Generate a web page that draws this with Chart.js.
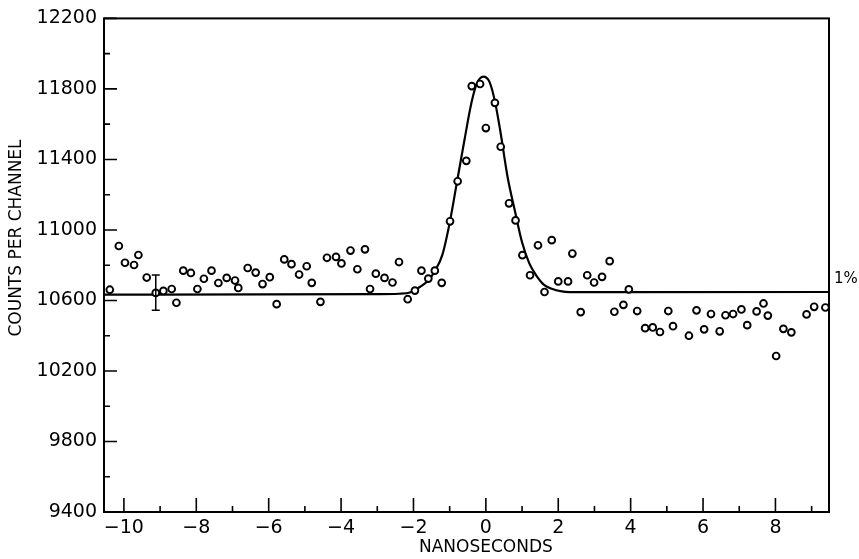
<!DOCTYPE html>
<html>
<head>
<meta charset="utf-8">
<script src="https://cdn.jsdelivr.net/npm/chart.js@4.4.1/dist/chart.umd.min.js"></script>
<style>
    html, body { margin: 0; padding: 0; background: #fff; }
    canvas { display: block; }
</style>
</head>
<body>
<canvas id="chart" width="859" height="559"></canvas>
<script>
// measured points (ns, counts per channel)
const timeNs = [
    -10.39, -10.14, -9.97, -9.72, -9.60, -9.37, -9.12, -8.91, -8.68, -8.55,
    -8.36, -8.15, -7.97, -7.79, -7.58, -7.39, -7.16, -6.93, -6.84, -6.58,
    -6.36, -6.17, -5.97, -5.78, -5.57, -5.37, -5.16, -4.95, -4.81, -4.57,
    -4.39, -4.14, -3.99, -3.74, -3.55, -3.34, -3.20, -3.04, -2.80, -2.58,
    -2.40, -2.16, -1.96, -1.78, -1.59, -1.41, -1.22, -0.99, -0.78, -0.54,
    -0.39, -0.16, 0.00, 0.25, 0.41, 0.64, 0.82, 1.01, 1.22, 1.44,
    1.62, 1.82, 2.00, 2.27, 2.39, 2.62, 2.80, 2.99, 3.21, 3.42,
    3.55, 3.80, 3.95, 4.18, 4.40, 4.61, 4.81, 5.04, 5.17, 5.61,
    5.82, 6.03, 6.22, 6.46, 6.62, 6.83, 7.06, 7.22, 7.48, 7.67,
    7.79, 8.02, 8.22, 8.44, 8.86, 9.07, 9.38
];
const counts = [
    10661, 10909, 10814, 10801, 10858, 10730, 10643, 10654, 10665, 10587,
    10769, 10756, 10665, 10723, 10769, 10699, 10728, 10713, 10671, 10784,
    10758, 10693, 10732, 10579, 10833, 10806, 10747, 10794, 10700, 10592,
    10842, 10847, 10810, 10883, 10777, 10890, 10665, 10752, 10728, 10702,
    10818, 10607, 10656, 10769, 10724, 10769, 10700, 11049, 11276, 11392,
    11816, 11828, 11578, 11721, 11472, 11151, 11054, 10857, 10743, 10913,
    10648, 10942, 10708, 10708, 10866, 10534, 10743, 10702, 10734, 10823,
    10536, 10575, 10663, 10540, 10443, 10447, 10421, 10540, 10454, 10400,
    10544, 10436, 10523, 10425, 10516, 10523, 10549, 10460, 10538, 10583,
    10514, 10285, 10439, 10419, 10521, 10564, 10560
];

// fitted curve
const fitNs = [-10.55, -3.0, -2.4, -2.1, -1.8, -1.6, -1.4, -1.2, -1.0, -0.8, -0.6, -0.4, -0.25, -0.07,
    0.1, 0.25, 0.4, 0.6, 0.8, 1.0, 1.2, 1.4, 1.6, 1.8, 2.1, 2.6, 9.48];
const fitCounts = [10633, 10636, 10638, 10645, 10680, 10712, 10770, 10860, 11040, 11270, 11500, 11720, 11830, 11870,
    11840, 11730, 11560, 11300, 11110, 10930, 10810, 10740, 10690, 10668, 10652, 10647, 10648];

// the "I" error bar near -9 ns
const errorBarNs = [-9.12];
const errorBarLow = [10545];
const errorBarHigh = [10745];

const xRange = [-10.55, 9.48];
const yRange = [9400, 12200];
const xTicks = [-10, -8, -6, -4, -2, 0, 2, 4, 6, 8];
const xMinorTicks = [-9, -7, -5, -3, -1, 1, 3, 5, 7, 9];
const yTicks = [9400, 9800, 10200, 10600, 11000, 11400, 11800, 12200];
const yMinorTicks = [9600, 10000, 10400, 10800, 11200, 11600, 12000];

const xTitle = 'NANOSECONDS';
const yTitle = 'COUNTS PER CHANNEL';
const percentNote = '1%';

const FONT = '"DejaVu Sans", sans-serif';

const paperPlugin = {
    id: 'paperPlugin',
    afterDatasetsDraw(chart) {
        const ctx = chart.ctx;
        const area = chart.chartArea;
        const xs = chart.scales.x;
        const ys = chart.scales.y;
        ctx.save();
        ctx.strokeStyle = '#000';
        ctx.lineWidth = 2;
        ctx.strokeRect(area.left, area.top, area.right - area.left, area.bottom - area.top);

        // inward ticks
        ctx.lineWidth = 1.6;
        ctx.beginPath();
        xTicks.forEach(v => {
            const px = xs.getPixelForValue(v);
            ctx.moveTo(px, area.bottom);
            ctx.lineTo(px, area.bottom - 14);
        });
        xMinorTicks.forEach(v => {
            const px = xs.getPixelForValue(v);
            ctx.moveTo(px, area.bottom);
            ctx.lineTo(px, area.bottom - 6);
        });
        yTicks.forEach(v => {
            const py = ys.getPixelForValue(v);
            ctx.moveTo(area.left, py);
            ctx.lineTo(area.left + 13, py);
        });
        yMinorTicks.forEach(v => {
            const py = ys.getPixelForValue(v);
            ctx.moveTo(area.left, py);
            ctx.lineTo(area.left + 6, py);
        });
        ctx.stroke();

        // error bar
        ctx.lineWidth = 1.5;
        ctx.beginPath();
        errorBarNs.forEach((v, i) => {
            const px = xs.getPixelForValue(v);
            const lo = ys.getPixelForValue(errorBarLow[i]);
            const hi = ys.getPixelForValue(errorBarHigh[i]);
            ctx.moveTo(px, lo);
            ctx.lineTo(px, hi);
            ctx.moveTo(px - 4, lo);
            ctx.lineTo(px + 4, lo);
            ctx.moveTo(px - 4, hi);
            ctx.lineTo(px + 4, hi);
        });
        ctx.stroke();

        // texts
        ctx.fillStyle = '#000';
        ctx.font = '17px ' + FONT;
        ctx.textAlign = 'center';
        ctx.textBaseline = 'middle';
        ctx.fillText(xTitle, xs.getPixelForValue(0), 548);

        ctx.save();
        ctx.translate(17, 238);
        ctx.rotate(-Math.PI / 2);
        ctx.fillText(yTitle, 0, 0);
        ctx.restore();

        ctx.textAlign = 'left';
        ctx.font = '15px ' + FONT;
        ctx.fillText(percentNote, area.right + 5, ys.getPixelForValue(fitCounts[fitCounts.length - 1]) - 13);
        ctx.restore();
    }
};

const fmt = v => (v < 0 ? '\u2212' + Math.abs(v) : String(v));

new Chart(document.getElementById('chart'), {
    type: 'scatter',
    data: {
        datasets: [
            {
                label: 'fit',
                data: fitNs.map((x, i) => ({ x: x, y: fitCounts[i] })),
                showLine: true,
                borderColor: '#000',
                borderWidth: 2.2,
                pointRadius: 0,
                cubicInterpolationMode: 'monotone',
                order: 2
            },
            {
                label: 'counts',
                data: timeNs.map((x, i) => ({ x: x, y: counts[i] })),
                showLine: false,
                pointStyle: 'circle',
                pointRadius: 3.4,
                pointBorderWidth: 1.9,
                pointBackgroundColor: '#fff',
                pointBorderColor: '#000',
                order: 1
            }
        ]
    },
    options: {
        responsive: false,
        animation: false,
        layout: { padding: { top: 11, right: 30, left: 0, bottom: 0 } },
        plugins: {
            legend: { display: false },
            tooltip: { enabled: false }
        },
        scales: {
            x: {
                type: 'linear',
                min: xRange[0],
                max: xRange[1],
                grid: { display: false, drawTicks: false },
                border: { display: false },
                afterBuildTicks: s => { s.ticks = xTicks.map(v => ({ value: v })); },
                afterFit: s => { s.height = 47; },
                ticks: {
                    color: '#000',
                    padding: 5,
                    font: { family: FONT, size: 19 },
                    callback: v => fmt(v)
                }
            },
            y: {
                type: 'linear',
                min: yRange[0],
                max: yRange[1],
                grid: { display: false, drawTicks: false },
                border: { display: false },
                afterBuildTicks: s => { s.ticks = yTicks.map(v => ({ value: v })); },
                afterFit: s => { s.width = 104; },
                ticks: {
                    color: '#000',
                    padding: 7,
                    font: { family: FONT, size: 19 },
                    callback: v => String(v)
                }
            }
        }
    },
    plugins: [paperPlugin]
});
</script>
</body>
</html>
